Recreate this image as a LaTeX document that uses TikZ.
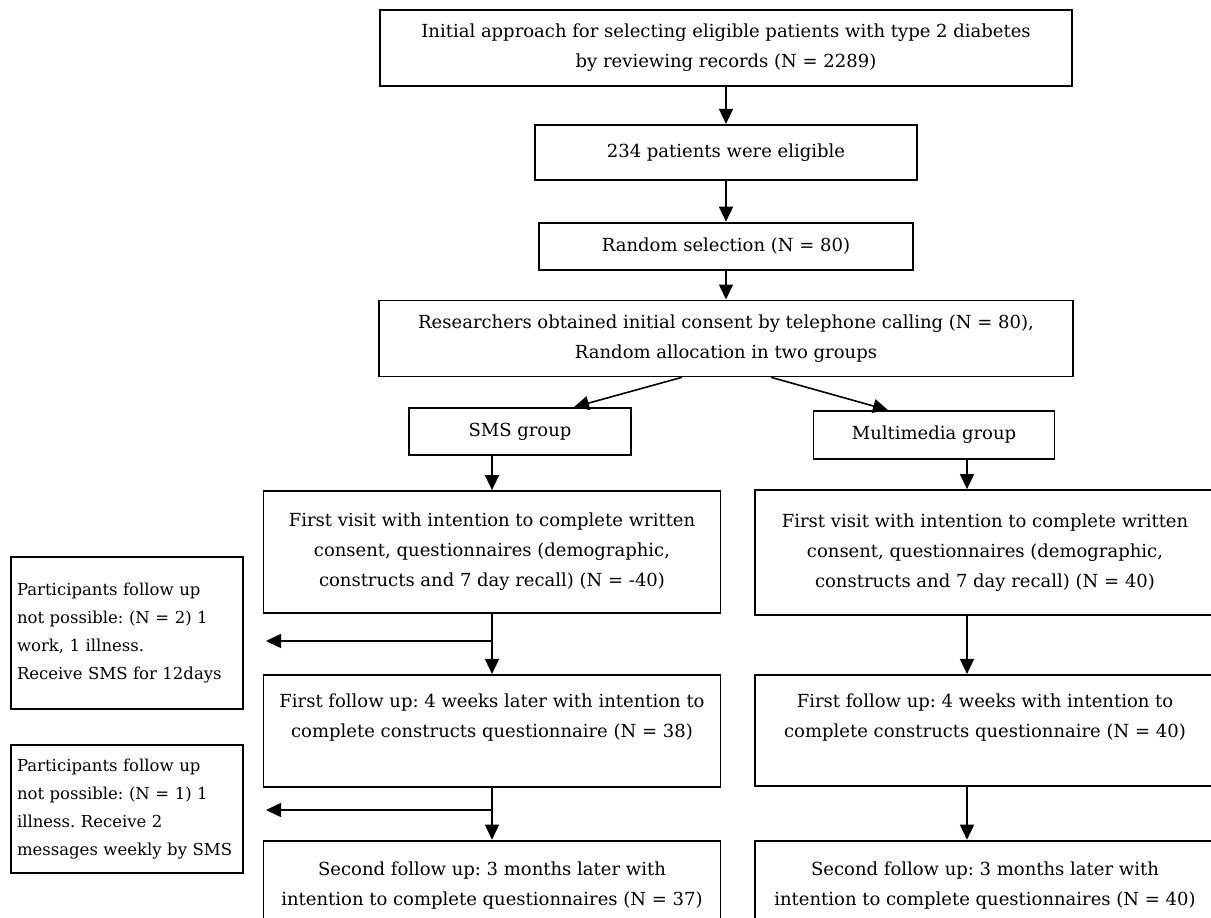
\documentclass[tikz,border=0pt]{standalone}
\usepackage{fontspec}
\setmainfont{DejaVu Serif}
\usepackage{tikz}
\usetikzlibrary{arrows.meta,positioning}
\frenchspacing

\begin{document}
\begin{tikzpicture}[
    box/.style={draw, line width=1.8pt, minimum height=47pt, align=center, inner sep=0pt, font=\fontsize{18}{30}\selectfont},
    sidebox/.style={draw, line width=1.8pt, text width=220pt, align=left, inner xsep=6pt, font=\fontsize{16.5}{28}\selectfont},
    link/.style={-{Triangle[length=15pt,width=14pt]}, line width=1.6pt}
]
    \useasboundingbox (0,0) rectangle (1211pt,-918pt);

    \node[box, minimum width=692pt, minimum height=76pt] (init) at (726pt,-48pt) {Initial approach for selecting eligible patients with type 2 diabetes\\by reviewing records (N = 2289)};
    \node[box, minimum width=382pt, minimum height=55pt, below=37pt of init] (elig) {234 patients were eligible};
    \node[box, minimum width=374pt, below=41pt of elig] (rand) {Random selection (N = 80)};
    \node[box, minimum width=694pt, minimum height=76pt, below=29pt of rand] (cons) {Researchers obtained initial consent by telephone calling (N = 80),\\Random allocation in two groups};

    \node[box, minimum width=222pt] (sms) at (520pt,-431.5pt) {SMS group};
    \node[box, minimum width=241pt, minimum height=48pt] (mm) at (934pt,-435pt) {Multimedia group};

    \node[box, minimum width=457pt, minimum height=122pt] (smsvisit) at (492pt,-552pt) {First visit with intention to complete written\\consent, questionnaires (demographic,\\constructs and 7 day recall) (N = -40)};
    \node[box, minimum width=457pt, minimum height=112pt, below=60pt of smsvisit] (smsfollow) {First follow up: 4 weeks later with intention to\\complete constructs questionnaire (N = 38)\\\mbox{}};
    \node[box, minimum width=457pt, minimum height=90pt, below=52pt of smsfollow] (smssecond) {Second follow up: 3 months later with\\intention to complete questionnaires (N = 37)};

    \node[box, minimum width=460pt, minimum height=125pt] (mmvisit) at (985pt,-552.5pt) {First visit with intention to complete written\\consent, questionnaires (demographic,\\constructs and 7 day recall) (N = 40)};
    \node[box, minimum width=460pt, minimum height=111pt, below=58pt of mmvisit] (mmfollow) {First follow up: 4 weeks with intention to\\complete constructs questionnaire (N = 40)\\\mbox{}};
    \node[box, minimum width=460pt, minimum height=90pt, below=53pt of mmfollow] (mmsecond) {Second follow up: 3 months later with\\intention to complete questionnaires (N = 40)};

    % losses to follow up
    \node[sidebox, minimum height=152pt] (lost1) at (127pt,-633pt) {Participants follow up\\not possible: (N = 2) 1\\work, 1 illness.\\Receive SMS for 12days};
    \node[sidebox, minimum height=128pt] (lost2) at (127pt,-809pt) {Participants follow up\\not possible: (N = 1) 1\\illness. Receive 2\\messages weekly by SMS};
    \coordinate (drop1) at (266pt,-641pt);
    \coordinate (drop2) at (266pt,-810pt);

    \draw[link] (init) -- (elig);
    \draw[link] (elig) -- (rand);
    \draw[link] (rand) -- (cons);
    \draw[link] ([xshift=-44pt]cons.south) -- ([xshift=54pt]sms.north);
    \draw[link] ([xshift=45pt]cons.south) -- ([xshift=-46pt]mm.north);

    \draw[link] (sms.south -| smsvisit.north) -- (smsvisit.north);
    \draw[link] (smsvisit) -- (smsfollow);
    \draw[link] (smsfollow) -- (smssecond);
    \draw[link] (smsvisit.south |- drop1) -- (drop1);
    \draw[link] (smsfollow.south |- drop2) -- (drop2);

    \draw[link] ([xshift=-18pt]mmvisit.north |- mm.south) -- ([xshift=-18pt]mmvisit.north);
    \draw[link] ([xshift=-18pt]mmvisit.south) -- ([xshift=-18pt]mmfollow.north);
    \draw[link] ([xshift=-18pt]mmfollow.south) -- ([xshift=-18pt]mmsecond.north);
\end{tikzpicture}
\end{document}
